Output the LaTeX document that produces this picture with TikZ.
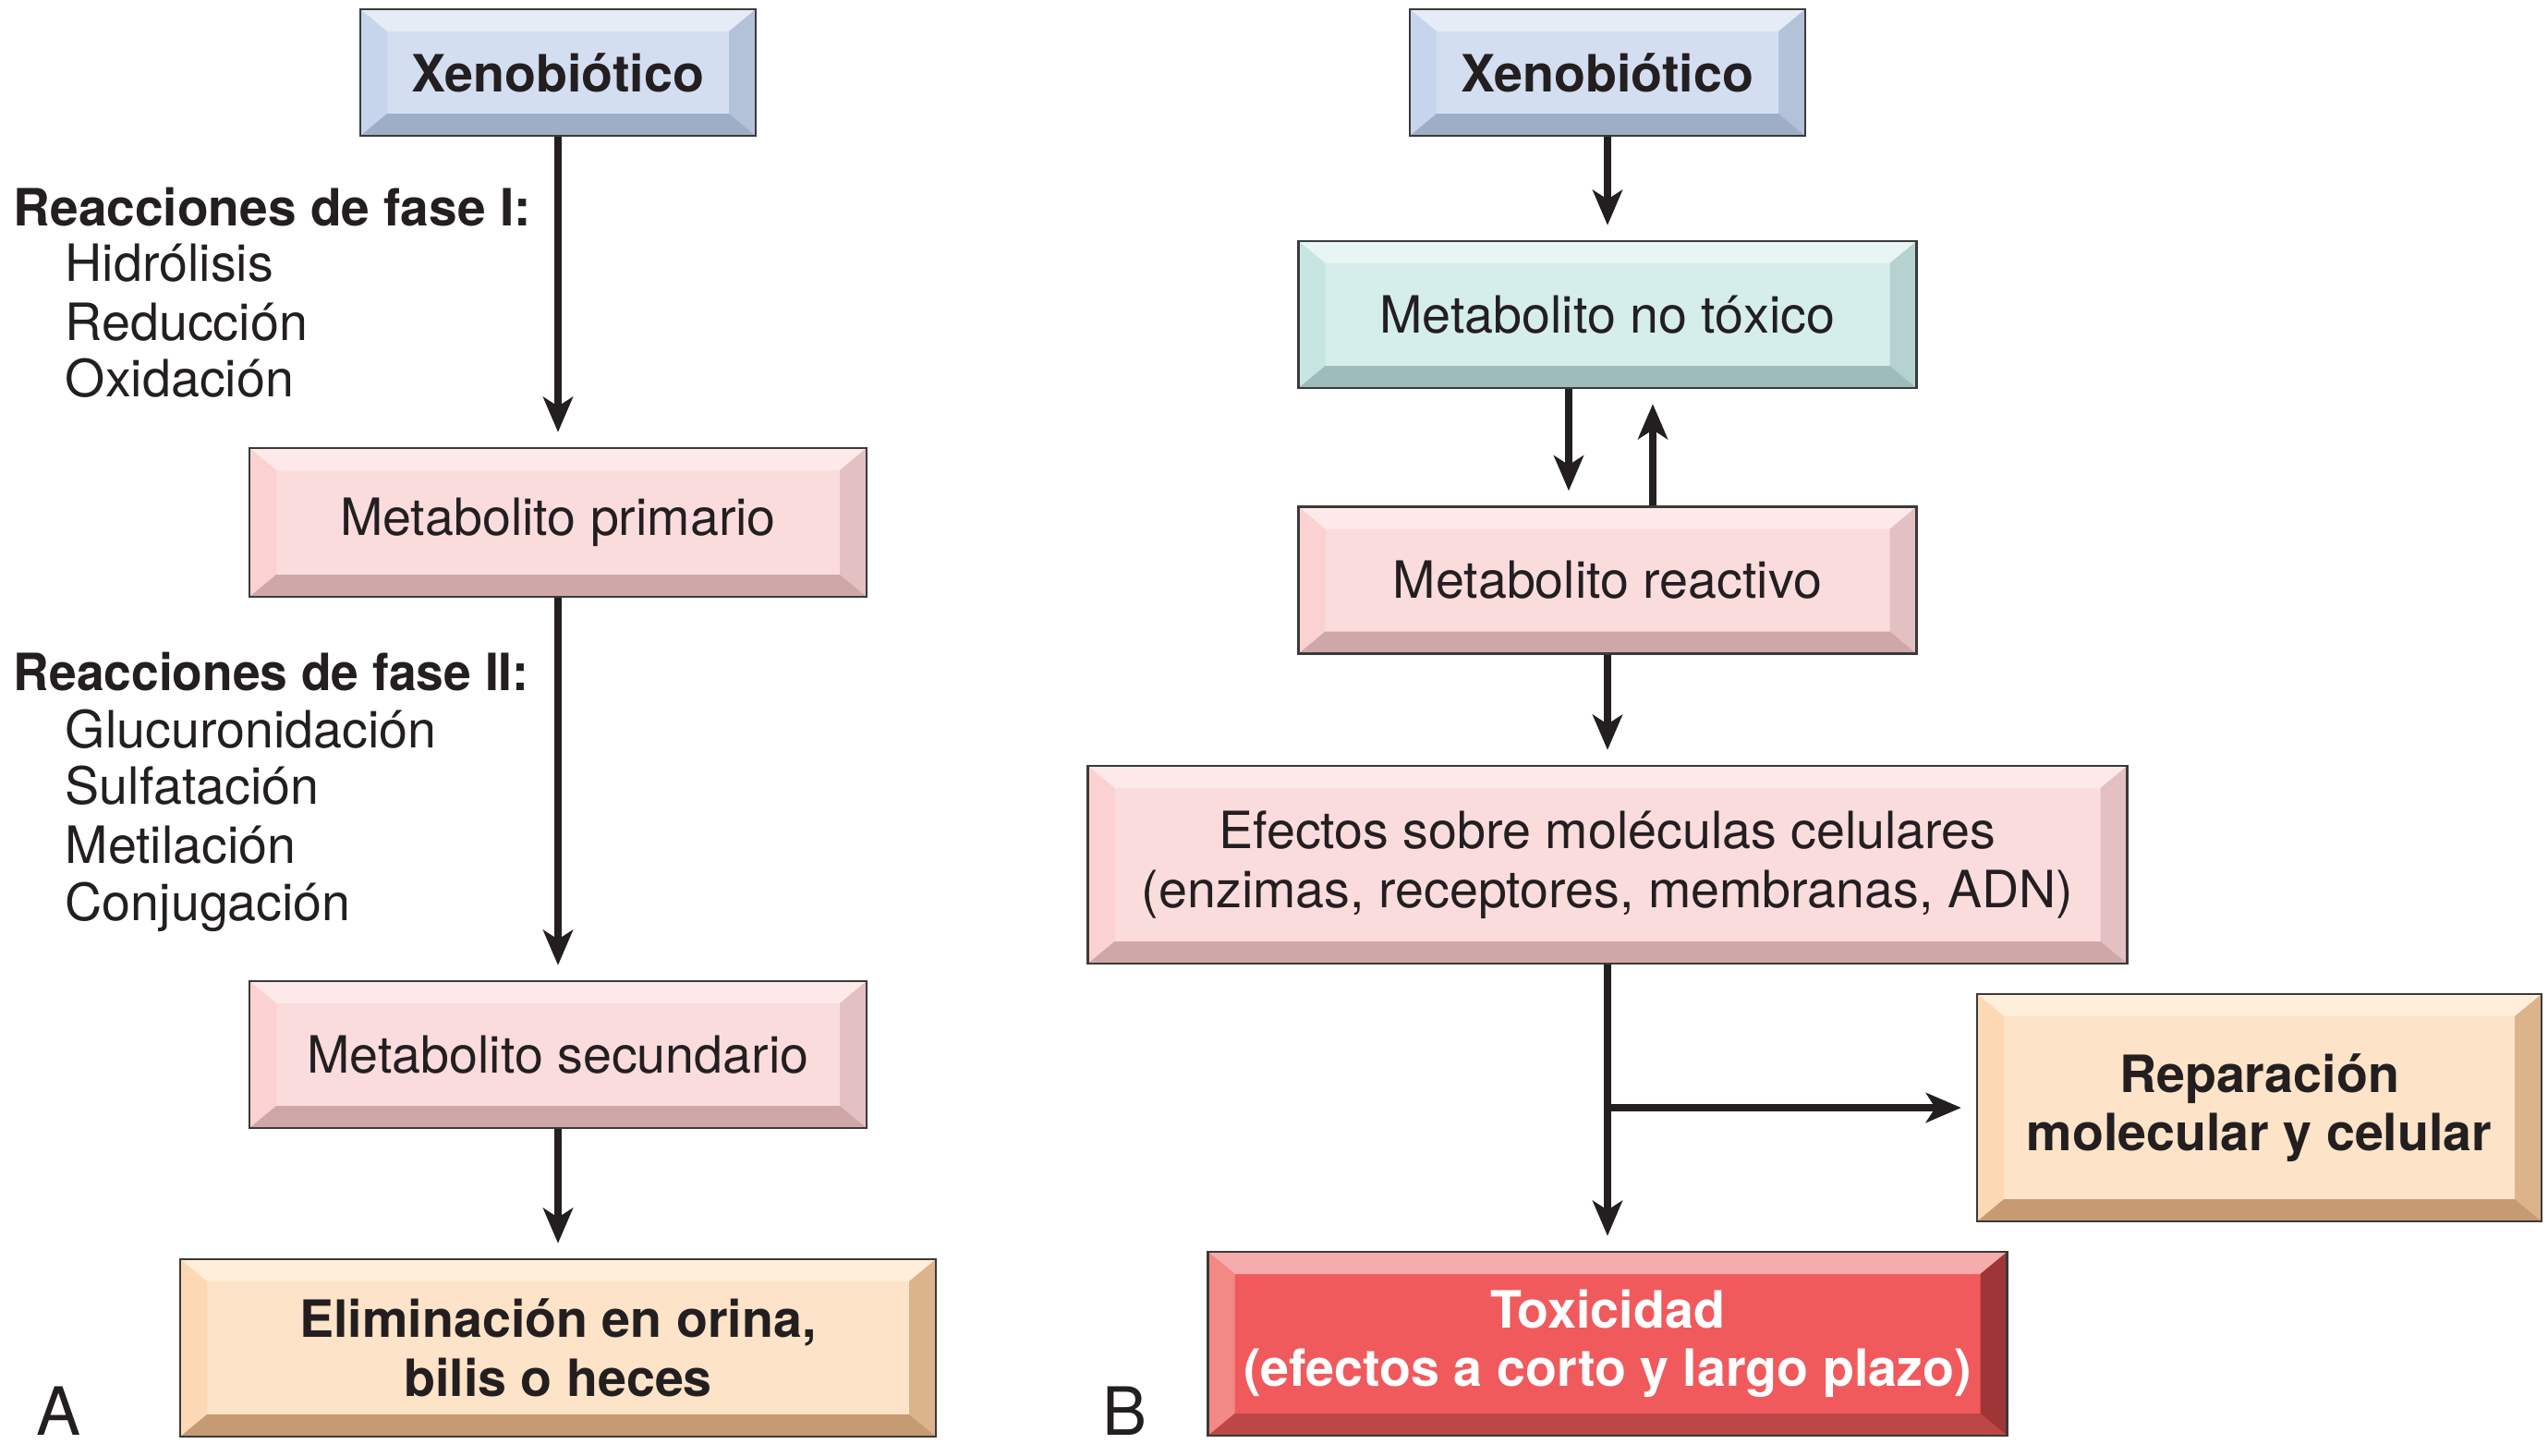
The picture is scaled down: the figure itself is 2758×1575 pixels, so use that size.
\documentclass[tikz,border=0pt]{standalone}
\usepackage{graphicx}
\usepackage{fontspec}
\setmainfont{TeX Gyre Heros}
\usetikzlibrary{arrows.meta,calc}
\definecolor{txtdark}{HTML}{231F20}
\definecolor{boxline}{HTML}{3A3A3A}
% blue
\definecolor{bluC}{HTML}{D3DEF0}\definecolor{bluT}{HTML}{E6ECF6}\definecolor{bluL}{HTML}{C7D5EC}\definecolor{bluR}{HTML}{B3C2D9}\definecolor{bluB}{HTML}{9DAEC6}
% pink
\definecolor{pnkC}{HTML}{FBDCDC}\definecolor{pnkT}{HTML}{FDE9E9}\definecolor{pnkL}{HTML}{FBD1D1}\definecolor{pnkR}{HTML}{E3C0C1}\definecolor{pnkB}{HTML}{D0A7A9}
% teal
\definecolor{tlC}{HTML}{D5EEEB}\definecolor{tlT}{HTML}{E7F5F3}\definecolor{tlL}{HTML}{C6E6E2}\definecolor{tlR}{HTML}{B5D2D1}\definecolor{tlB}{HTML}{9DBCBB}
% peach
\definecolor{pchC}{HTML}{FDE3C8}\definecolor{pchT}{HTML}{FFEED9}\definecolor{pchL}{HTML}{FDD8B4}\definecolor{pchR}{HTML}{DCB48B}\definecolor{pchB}{HTML}{C69B73}
% red
\definecolor{redC}{HTML}{F05A5D}\definecolor{redT}{HTML}{F6ABAC}\definecolor{redL}{HTML}{F28985}\definecolor{redR}{HTML}{9E3638}\definecolor{redB}{HTML}{BD4647}
\def\bevx{7.25pt}
\def\bevy{6pt}
\tikzset{
  bev/.style n args={5}{rectangle, inner sep=0pt, draw=boxline, line width=0.6pt,
    fill=#1, align=center, text=txtdark,
    font=\fontsize{13.9pt}{15.9pt}\selectfont,
    path picture={
      \path (path picture bounding box.north west) coordinate (pNW)
            (path picture bounding box.north east) coordinate (pNE)
            (path picture bounding box.south west) coordinate (pSW)
            (path picture bounding box.south east) coordinate (pSE);
      \fill[#2] (pNW) -- (pNE) -- ([shift={(-\bevx,-\bevy)}]pNE) -- ([shift={(\bevx,-\bevy)}]pNW) -- cycle;
      \fill[#3] (pNW) -- ([shift={(\bevx,-\bevy)}]pNW) -- ([shift={(\bevx,\bevy)}]pSW) -- (pSW) -- cycle;
      \fill[#4] (pNE) -- ([shift={(-\bevx,-\bevy)}]pNE) -- ([shift={(-\bevx,\bevy)}]pSE) -- (pSE) -- cycle;
      \fill[#5] (pSW) -- (pSE) -- ([shift={(-\bevx,\bevy)}]pSE) -- ([shift={(\bevx,\bevy)}]pSW) -- cycle;
    }},
  bluebox/.style={bev={bluC}{bluT}{bluL}{bluR}{bluB}},
  pinkbox/.style={bev={pnkC}{pnkT}{pnkL}{pnkR}{pnkB}},
  tealbox/.style={bev={tlC}{tlT}{tlL}{tlR}{tlB}},
  peachbox/.style={bev={pchC}{pchT}{pchL}{pchR}{pchB}},
  redbox/.style={bev={redC}{redT}{redL}{redR}{redB}},
  boldtxt/.style={font=\fontsize{13.9pt}{15.9pt}\selectfont\bfseries},
  arr/.style={draw=txtdark, line width=2pt,
    -{Stealth[length=9.5pt,width=8pt,inset=2.5pt]}, shorten >=4pt},
  lbl/.style={anchor=base west, inner sep=0pt, text=txtdark,
    font=\fontsize{13.9pt}{15.9pt}\selectfont},
  lblb/.style={lbl, font=\fontsize{13.9pt}{15.9pt}\selectfont\bfseries},
  panel/.style={anchor=base west, inner sep=0pt, text=txtdark,
    font=\fontsize{18pt}{20pt}\selectfont}
}
\begin{document}
\begin{tikzpicture}[x=0.25pt,y=-0.25pt]
\useasboundingbox[fill=white] (0,0) rectangle (2758,1575);

% ---- Panel A ----
\node[bluebox, boldtxt, minimum width=107pt, minimum height=34.25pt] (xenoA) at (604,78.5) {Xenobiótico};
\node[pinkbox, minimum width=167pt, minimum height=40.25pt] (prim) at (604,565.5) {Metabolito primario};
\node[pinkbox, minimum width=167pt, minimum height=39.75pt] (sec) at (604,1141.5) {Metabolito secundario};
\node[peachbox, boldtxt, minimum width=204.5pt, minimum height=48pt] (elim) at (604,1459) {Eliminación en orina,\\bilis o heces};

\node[lblb] (f1) at (14,244) {\scalebox{0.99}[1]{Reacciones de fase I:}};
\node[lbl] (f1a) at (70,304) {Hidrólisis};
\node[lbl] (f1b) at (70,368) {Reducción};
\node[lbl] (f1c) at (70,429) {Oxidación};

\node[lblb] (f2) at (14,747) {\scalebox{0.96}[1]{Reacciones de fase II:}};
\node[lbl] (f2a) at (70,809) {Glucuronidación};
\node[lbl] (f2b) at (70,870) {Sulfatación};
\node[lbl] (f2c) at (70,934) {Metilación};
\node[lbl] (f2d) at (70,996) {Conjugación};

\draw[arr] (xenoA.south) -- (prim.north);
\draw[arr] (prim.south) -- (sec.north);
\draw[arr] (sec.south) -- (elim.north);

\node[panel] (labA) at (39,1553) {A};

% ---- Panel B ----
\node[bluebox, boldtxt, minimum width=107pt, minimum height=34.25pt] (xenoB) at (1740,78.5) {Xenobiótico};
\node[tealbox, minimum width=167.25pt, minimum height=39.75pt] (notox) at (1740,340.5) {Metabolito no tóxico};
\node[pinkbox, minimum width=167.25pt, minimum height=39.75pt] (react) at (1740,628) {Metabolito reactivo};
\node[pinkbox, minimum width=281.25pt, minimum height=53.5pt] (efect) at (1740,936) {Efectos sobre moléculas celulares\\(enzimas, receptores, membranas, ADN)};
\node[peachbox, boldtxt, minimum width=152.75pt, minimum height=61.5pt] (repar) at (2445.5,1199) {Reparación\\molecular y celular};
\node[redbox, boldtxt, text=white, minimum width=216.25pt, minimum height=49.75pt] (toxic) at (1740,1454.5) {Toxicidad\\(efectos a corto y largo plazo)};

\draw[arr] (xenoB.south) -- (notox.north);
\draw[arr] ([xshift=-10.5pt]notox.south) -- ([xshift=-10.5pt]react.north);
\draw[arr] ([xshift=12.25pt]react.north) -- ([xshift=12.25pt]notox.south);
\draw[arr] (react.south) -- (efect.north);
\draw[arr] (efect.south) -- (toxic.north);
\coordinate (br) at (efect.south |- repar.west);
\draw[arr] (br) -- (repar.west);

\node[panel] (labB) at (1193,1553) {B};
\end{tikzpicture}
\end{document}
